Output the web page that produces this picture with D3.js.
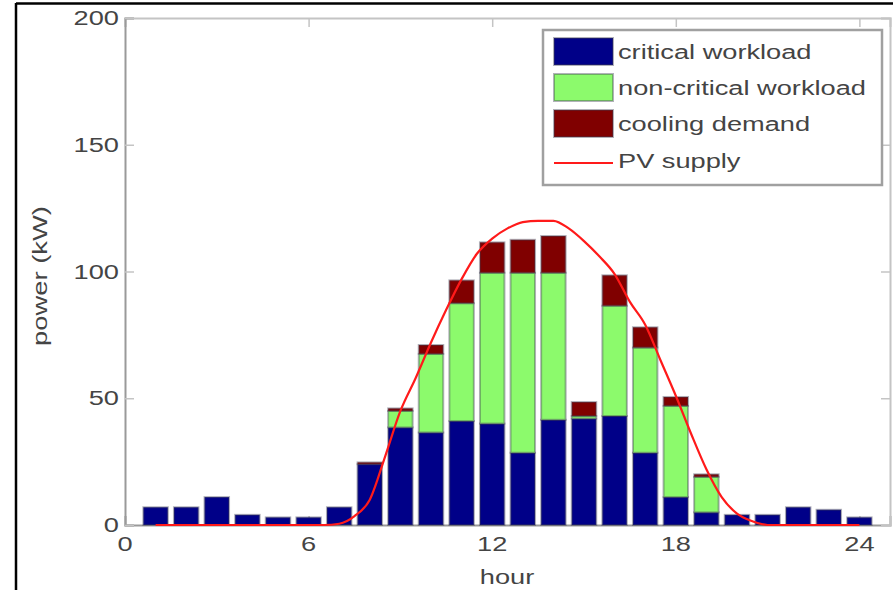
<!DOCTYPE html>
<html lang="en">
<head>
<meta charset="UTF-8">
<title>power by hour</title>
<script src="https://d3js.org/d3.v7.min.js"></script>
<style>
  body { margin: 0; background: #fff; }
  svg text { font-family: "Liberation Sans", Arial, sans-serif; fill: #444; }
</style>
</head>
<body>
<svg width="893" height="590"></svg>
<script>
// data
let hours = [1, 2, 3, 4, 5, 6, 7, 8, 9, 10, 11, 12, 13, 14, 15, 16, 17, 18, 19, 20, 21, 22, 23, 24]
let critical = [7, 7, 11, 4, 3, 3, 7, 24, 38.5, 36.5, 41, 40, 28.5, 41.5, 42, 43, 28.5, 11, 5, 4, 4, 7, 6, 3]
let nonCritical = [0, 0, 0, 0, 0, 0, 0, 0, 6.5, 31, 46.5, 59.5, 71, 58, 1, 43.5, 41.5, 36, 14, 0, 0, 0, 0, 0]
let cooling = [0, 0, 0, 0, 0, 0, 0, 0.7, 1, 3.5, 9, 12, 13, 14.5, 5.5, 12, 8, 3.5, 1, 0, 0, 0, 0, 0]

let pvHour = [1, 2, 3, 4, 5, 6, 6.5, 7, 7.5, 8, 8.5, 9, 9.5, 10, 10.5, 11, 11.5, 12, 12.5, 13, 13.5, 14,
    14.5, 15, 15.5, 16, 16.5, 17, 17.5, 18, 18.5, 19, 19.5, 20, 20.5, 21, 22, 23, 24]
let pvPower = [0, 0, 0, 0, 0, 0, 0, 0.5, 3.5, 10, 27, 45, 58, 72, 85, 97, 107, 113, 117, 119.5, 120, 120,
    117, 112, 106, 99, 88, 79, 65, 51, 36, 22, 11, 4.5, 1.5, 0, 0, 0, 0]

let xTicks = [0, 6, 12, 18, 24]
let yTicks = [0, 50, 100, 150, 200]
let keys = ['critical workload', 'non-critical workload', 'cooling demand']
let colors = ['#000088', '#8cfa6c', '#800000']

let table = hours.map((h, i) => ({
    hour: h,
    'critical workload': critical[i],
    'non-critical workload': nonCritical[i],
    'cooling demand': cooling[i]
}))

let svg = d3.select('svg')
let plotL = 125, plotR = 890, plotT = 18, plotB = 525
let stretch = 1.36

let x = d3.scaleLinear().domain([0, 25]).range([plotL, plotR])
let y = d3.scaleLinear().domain([0, 200]).range([plotB, plotT])

// widen text like the original
function widen(sel) {
    sel.each(function () {
        let w = this.getComputedTextLength()
        d3.select(this).attr('textLength', w * stretch).attr('lengthAdjust', 'spacingAndGlyphs')
    })
}

// outer frame (only top and left visible)
svg.append('line').attr('x1', 16).attr('x2', 893).attr('y1', 3.5).attr('y2', 3.5)
    .attr('stroke', '#000').attr('stroke-width', 2.5)
svg.append('line').attr('x1', 16).attr('x2', 16).attr('y1', 3).attr('y2', 590)
    .attr('stroke', '#000').attr('stroke-width', 2.5)

// axes box with inward ticks
let axisColor = '#9a9a9a'
let gb = svg.append('g').attr('transform', `translate(0,${plotB})`)
    .call(d3.axisBottom(x).tickValues(xTicks).tickSize(-9).tickFormat(''))
let gt = svg.append('g').attr('transform', `translate(0,${plotT})`)
    .call(d3.axisTop(x).tickValues(xTicks).tickSize(-9).tickFormat(''))
let gl = svg.append('g').attr('transform', `translate(${plotL},0)`)
    .call(d3.axisLeft(y).tickValues(yTicks).tickSize(-9).tickFormat(''))
let gr = svg.append('g').attr('transform', `translate(${plotR},0)`)
    .call(d3.axisRight(y).tickValues(yTicks).tickSize(-9).tickFormat(''))
;[gb, gt, gl, gr].forEach(g => {
    g.select('.domain').attr('stroke', axisColor).attr('stroke-width', 2)
    g.selectAll('.tick line').attr('stroke', '#c4c4c4').attr('stroke-width', 1.5)
})
gt.select('.domain').attr('stroke', '#c4c4c4')
gr.select('.domain').attr('stroke', '#c4c4c4')

// tick labels
svg.append('g').selectAll('text').data(xTicks).join('text')
    .attr('x', d => x(d)).attr('y', 551)
    .attr('text-anchor', 'middle').style('font-size', '20px')
    .text(d => d).call(widen)
svg.append('g').selectAll('text').data(yTicks).join('text')
    .attr('x', 119).attr('y', d => y(d) + 7)
    .attr('text-anchor', 'end').style('font-size', '20px')
    .text(d => d).call(widen)

svg.append('text').attr('x', 507).attr('y', 584)
    .attr('text-anchor', 'middle').style('font-size', '20px')
    .text('hour').call(widen)
svg.append('text').attr('transform', 'translate(47,276) rotate(-90)')
    .attr('text-anchor', 'middle').style('font-size', '20px')
    .attr('textLength', 140).attr('lengthAdjust', 'spacingAndGlyphs')
    .text('power (kW)')

// stacked bars
let series = d3.stack().keys(keys)(table)
let bw = x(0.8) - x(0)

let g = svg.append('g').selectAll('g.series')
    .data(series)
    .join('g')
    .classed('series', true)
    .style('fill', (d, i) => colors[i])

g.selectAll('rect')
    .data(d => d.filter(v => v[1] - v[0] > 0))
    .join('rect')
    .attr('x', d => x(d.data.hour) - bw / 2)
    .attr('width', bw)
    .attr('y', d => y(d[1]))
    .attr('height', d => y(d[0]) - y(d[1]))
    .attr('stroke', '#3c3c50')
    .attr('stroke-opacity', 0.4)
    .attr('stroke-width', 2)

// PV supply line
let pv = pvHour.map((h, i) => [h, pvPower[i]])
svg.append('path')
    .datum(pv)
    .attr('d', d3.line().x(d => x(d[0])).y(d => y(d[1])).curve(d3.curveMonotoneX))
    .attr('fill', 'none')
    .attr('stroke', '#ff1a1a')
    .attr('stroke-width', 2.2)

// legend
let lg = svg.append('g')
lg.append('rect').attr('x', 543).attr('y', 30).attr('width', 339).attr('height', 155)
    .attr('fill', '#fff').attr('stroke', '#a0a0a0').attr('stroke-width', 2.5)

let legendY = [38, 74, 110]
keys.forEach((k, i) => {
    lg.append('rect').attr('x', 554).attr('y', legendY[i]).attr('width', 59).attr('height', 27)
        .attr('fill', colors[i]).attr('stroke', '#3c3c50').attr('stroke-opacity', 0.4).attr('stroke-width', 2)
    lg.append('text').attr('x', 618).attr('y', legendY[i] + 21)
        .style('font-size', '20px').text(k).call(widen)
})
lg.append('line').attr('x1', 554).attr('x2', 613).attr('y1', 163).attr('y2', 163)
    .attr('stroke', '#ff1a1a').attr('stroke-width', 2.2)
lg.append('text').attr('x', 618).attr('y', 168)
    .style('font-size', '20px').text('PV supply').call(widen)
</script>
</body>
</html>
